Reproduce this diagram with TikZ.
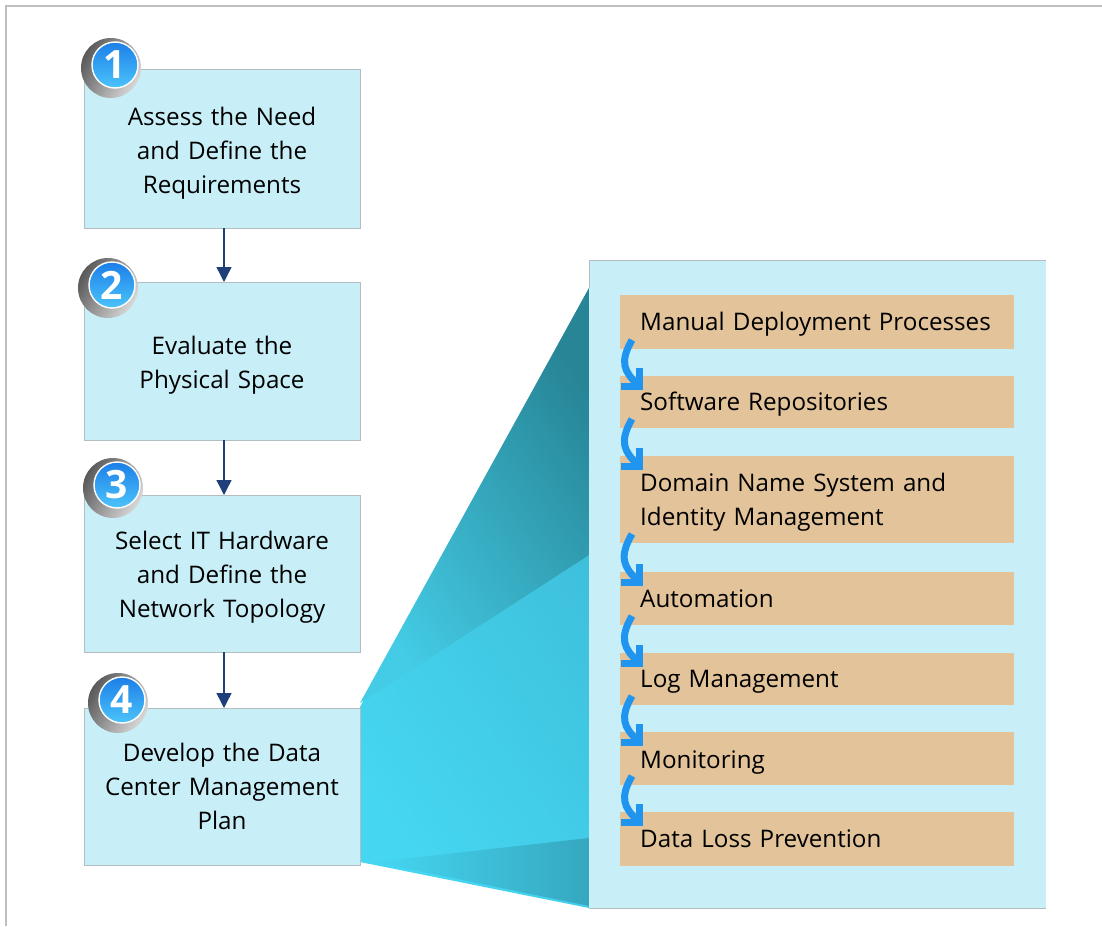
\documentclass[tikz,border=0pt]{standalone}
\usepackage{fontspec}
\setmainfont{Open Sans}
\usepackage{xcolor}
\usetikzlibrary{arrows.meta}
\definecolor{boxfill}{HTML}{C8EFF7}
\definecolor{boxline}{HTML}{B4BEC2}
\definecolor{barfill}{HTML}{E2C39A}
\definecolor{flowblue}{HTML}{1F95F0}
\definecolor{stepline}{HTML}{1F3F7A}
\definecolor{framegray}{HTML}{BFBFBF}
\definecolor{funnelbright}{HTML}{45D6F1}
\definecolor{funnelmid}{HTML}{3CBAD5}
\definecolor{funnelupper}{HTML}{44CCE6}
\definecolor{funneldark}{HTML}{278596}
\definecolor{badgelight}{HTML}{4CC4FA}
\definecolor{badgedark}{HTML}{1C7FE8}
\tikzset{
    box/.style={draw=boxline, line width=.7pt, fill=boxfill, anchor=north west, inner sep=0pt, outer sep=0pt},
    boxtext/.style={inner sep=0pt, align=center, text width=270pt, font=\fontsize{24.2}{34}\selectfont},
    bar/.style={fill=barfill, anchor=north west, inner sep=0pt, outer sep=0pt, minimum width=394pt},
    bartext/.style={anchor=west, inner sep=0pt, align=left, text width=360pt, font=\fontsize{24.2}{34}\selectfont},
    badgeback/.style={circle, minimum size=60pt, inner sep=0pt, left color=black!65, right color=black!15, shading angle=60},
    badge/.style={circle, minimum size=46pt, inner sep=0pt, draw=white, line width=1.4pt, top color=badgedark, bottom color=badgelight, text=white, font=\fontsize{39}{39}\bfseries\selectfont},
    stepflow/.style={draw=stepline, line width=1.4pt, -{Triangle[length=15pt,width=15pt]}},
    barflow/.style={draw=flowblue, line width=7pt, -{Straight Barb[length=13pt,width=26pt,line width=7pt]}},
}
\begin{document}
\begin{tikzpicture}[x=1pt,y=-1pt]
\useasboundingbox (0,0) rectangle (1102,926);
\draw[framegray, line width=2pt] (6,926) -- (6,6) -- (1102,6);
% funnel
\shade[left color=funnelbright, right color=funnelmid, shading angle=125]
    (360,707) -- (589,288) -- (589,908) -- (360,862) -- cycle;
\shade[left color=funnelupper, right color=funneldark, shading angle=125]
    (360,703) -- (589,288) -- (589,555) -- cycle;
\shade[left color=funnelbright, right color=funnelmid!90!black, shading angle=90]
    (375,862) -- (589,838) -- (589,906) -- cycle;
\node[box, minimum width=457pt, minimum height=648pt, draw=none] (panel) at (589,260) {};
\draw[boxline, line width=.8pt] (589,288) -- (panel.north west) -- (panel.north east);
\draw[boxline, line width=.8pt] (panel.south west) -- (panel.south east);
% steps
\foreach \y/\h/\down/\txt[count=\i] in {
    69/159/5/{Assess the Need\\and Define the\\Requirements},
    282/158/4/{Evaluate the\\Physical Space},
    495/157/4/{Select IT Hardware\\and Define the\\Network Topology},
    708/157/0/{Develop the Data\\Center Management\\Plan}
}{
    \node[box, minimum width=276pt, minimum height=\h pt] (box\i) at (84,\y) {};
    \node[boxtext] (text\i) at ([yshift=-\down*1pt]box\i.center) {\txt};
}
\draw[stepflow] ([xshift=2pt]box1.south) -- ([xshift=2pt]box2.north);
\draw[stepflow] ([xshift=2pt]box2.south) -- ([xshift=2pt]box3.north);
\draw[stepflow] ([xshift=2pt]box3.south) -- ([xshift=2pt]box4.north);
\foreach \x/\y[count=\i] in {115/65, 112/285, 117/485, 122/700}{
    \node[badgeback] (back\i) at (\x-4,\y+3) {};
    \node[badge] (badge\i) at (\x,\y) {\i};
}
% bars
\foreach \y/\h/\down/\txt[count=\i] in {
    295/54/2/{Manual Deployment Processes},
    376/52/2/{Software Repositories},
    456/87/3/{Domain Name System and\\Identity Management},
    572/53/0/{Automation},
    653/52/3/{Log Management},
    732/53/4/{Monitoring},
    812/54/0/{Data Loss Prevention}
}{
    \node[bar, minimum height=\h pt] (bar\i) at (620,\y) {};
    \node[bartext] (bartext\i) at ([xshift=20pt,yshift=-\down*1pt]bar\i.west) {\txt};
}
\foreach \i[evaluate=\i as \j using int(\i+1)] in {1,...,6}{
    \coordinate (from\i) at ([shift={(12,-9)}]bar\i.south west);
    \coordinate (to\j) at ([shift={(23,14)}]bar\j.north west);
    \draw[barflow] (from\i) to[out=240,in=135,looseness=1.3] (to\j);
}
\end{tikzpicture}
\end{document}
